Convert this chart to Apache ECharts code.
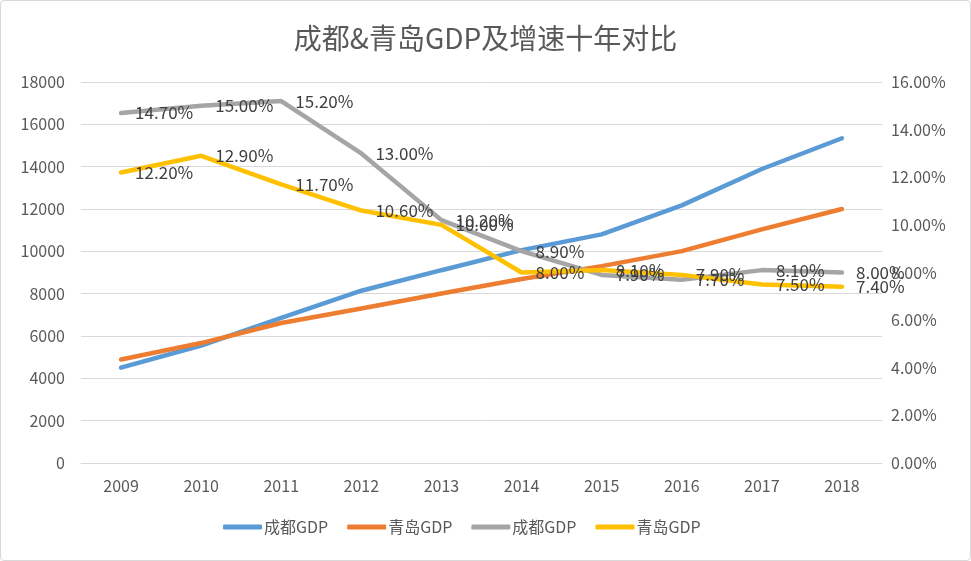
<!DOCTYPE html>
<html><head><meta charset="utf-8">
<script src="https://cdn.jsdelivr.net/npm/echarts@6/dist/echarts.min.js"></script>
<style>
html,body{margin:0;padding:0;background:#fff;}
#c{position:absolute;left:0;top:0;width:969px;height:559px;border:1px solid #d9d9d9;border-radius:4px;}
</style></head><body>
<div id="c"></div>
<script>
const years = ['2009','2010','2011','2012','2013','2014','2015','2016','2017','2018'];
const chengduGDP = [4503, 5551, 6855, 8139, 9109, 10057, 10801, 12170, 13889, 15343];
const qingdaoGDP = [4890, 5666, 6616, 7302, 8007, 8692, 9300, 10011, 11037, 12002];
const chengduGrowth = [14.7, 15.0, 15.2, 13.0, 10.2, 8.9, 7.9, 7.7, 8.1, 8.0];
const qingdaoGrowth = [12.2, 12.9, 11.7, 10.6, 10.0, 8.0, 8.1, 7.9, 7.5, 7.4];

const font = '"Noto Sans CJK SC","Noto Sans",sans-serif';
const chart = echarts.init(document.getElementById('c'));
const labelStyle = {
  show: true, position: 'right', distance: 14,
  color: '#404040', fontSize: 17, fontFamily: font,
  formatter: p => p.value.toFixed(2) + '%'
};
chart.setOption({
  animation: false,
  textStyle: {fontFamily: font},
  title: {
    text: '成都&青岛GDP及增速十年对比', left: 'center', top: 18,
    textStyle: {fontSize: 28, fontWeight: 'normal', color: '#595959', fontFamily: font}
  },
  legend: {
    bottom: 20, left: 217, itemWidth: 39, itemHeight: 5, itemGap: 19,
    icon: 'roundRect',
    textStyle: {fontSize: 16, color: '#595959', fontFamily: font, padding: [0, 0, 0, -3]},
    data: [
      {name: '成都GDP'}, {name: '青岛GDP'}, {name: '成都GDP '}, {name: '青岛GDP '}
    ],
    formatter: n => n.trim()
  },
  grid: {left: 80, right: 88, top: 81, bottom: 97, containLabel: false},
  xAxis: {
    type: 'category', data: years, boundaryGap: true,
    axisLine: {lineStyle: {color: '#d9d9d9', width: 1}},
    axisTick: {show: false},
    axisLabel: {color: '#595959', fontSize: 16, margin: 15, fontFamily: font}
  },
  yAxis: [
    {
      type: 'value', min: 0, max: 18000, interval: 2000,
      axisLine: {show: false}, axisTick: {show: false},
      axisLabel: {color: '#595959', fontSize: 16, margin: 16, fontFamily: font,
        formatter: v => String(v)},
      splitLine: {lineStyle: {color: '#d9d9d9', width: 1}}
    },
    {
      type: 'value', min: 0, max: 16, interval: 2,
      axisLine: {show: false}, axisTick: {show: false},
      axisLabel: {color: '#595959', fontSize: 16, margin: 9, fontFamily: font,
        formatter: v => v.toFixed(2) + '%'},
      splitLine: {show: false}
    }
  ],
  series: [
    {name: '成都GDP', type: 'line', data: chengduGDP, yAxisIndex: 0, showSymbol: false, symbol: 'none',
      lineStyle: {color: '#5B9BD5', width: 4.5, cap: 'round'}, itemStyle: {color: '#5B9BD5'}},
    {name: '青岛GDP', type: 'line', data: qingdaoGDP, yAxisIndex: 0, showSymbol: false, symbol: 'none',
      lineStyle: {color: '#ED7D31', width: 4.5, cap: 'round'}, itemStyle: {color: '#ED7D31'}},
    {name: '成都GDP ', type: 'line', data: chengduGrowth, yAxisIndex: 1, symbol: 'circle', symbolSize: 0.1,
      lineStyle: {color: '#A5A5A5', width: 4.5, cap: 'round'}, itemStyle: {color: '#A5A5A5'},
      label: labelStyle},
    {name: '青岛GDP ', type: 'line', data: qingdaoGrowth, yAxisIndex: 1, symbol: 'circle', symbolSize: 0.1,
      lineStyle: {color: '#FFC000', width: 4.5, cap: 'round'}, itemStyle: {color: '#FFC000'},
      label: labelStyle}
  ]
});
</script>
</body></html>
